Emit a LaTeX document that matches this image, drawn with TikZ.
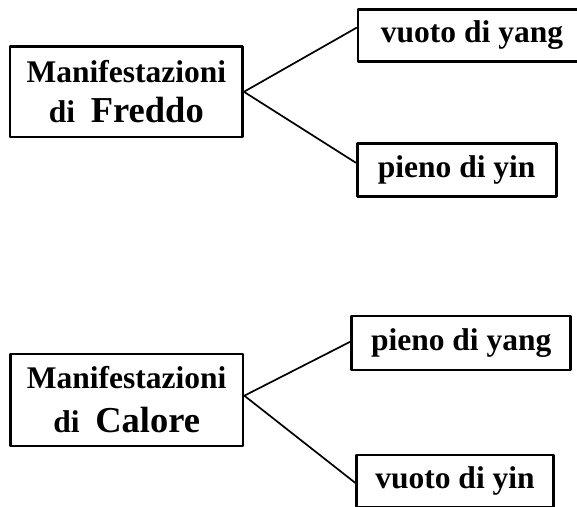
\documentclass[tikz,border=0pt]{standalone}
\usepackage{fontspec}
\setmainfont{Liberation Serif}
\newcommand{\bigword}[1]{{\fontsize{36.5}{44}\selectfont #1}}
\tikzset{
	boxfont/.style={font=\fontsize{31.5}{40}\selectfont\bfseries},
	mainbox/.style={draw, line width=2.8pt, minimum width=232.5pt, minimum height=90.5pt,
		align=center, inner sep=0pt, boxfont},
	sidebox/.style={draw, line width=2.8pt, minimum height=52.5pt, inner sep=0pt, boxfont},
	branch/.style={line width=1.7pt}
}
\begin{document}
\begin{tikzpicture}[x=1pt, y=-1pt, line join=round, line cap=round]
			\useasboundingbox (0,0) rectangle (577,506);
			
			% Freddo
			\node[mainbox] (freddo) at (126.3,91.8) {Manifestazioni\\di\ \ \bigword{Freddo}};
			\node[sidebox, minimum width=228pt] (vuotoyang) at (472,35.5) {vuoto di yang};
			\node[sidebox, minimum width=199pt] (pienoyin) at (456.7,170) {pieno di yin};
			
			% Calore
			\node[mainbox, minimum height=92pt, font=\fontsize{31.5}{44}\selectfont\bfseries]
				(calore) at (126.7,400) {Manifestazioni\\di\ \ \bigword{Calore}};
			\node[sidebox, minimum width=219pt, minimum height=54pt] (pienoyang) at (461.2,343) {pieno di yang};
			\node[sidebox, minimum width=196.6pt] (vuotoyin) at (455,481.2) {vuoto di yin};
			
			% Collegamenti
			\foreach \a/\b/\ya/\yb in {
				freddo/vuotoyang/0/7.8, freddo/pienoyin/0/7.3,
				calore/pienoyang/4.3/1.3, calore/vuotoyin/4.3/-1.7
			} \draw[branch] ([yshift=\ya pt]\a.east) -- ([yshift=\yb pt]\b.west);
\end{tikzpicture}
\end{document}
